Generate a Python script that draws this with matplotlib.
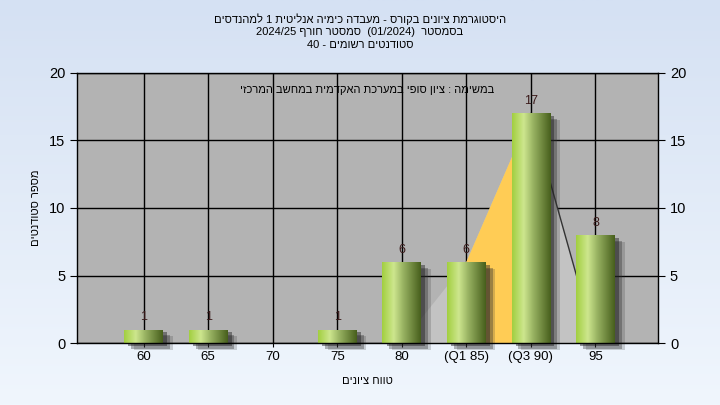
import numpy as np
import matplotlib
matplotlib.use("Agg")
import matplotlib.pyplot as plt
from matplotlib.colors import LinearSegmentedColormap
from matplotlib import patheffects as pe

plt.rcParams['font.family'] = ['Liberation Sans', 'DejaVu Sans']

# data
categories = ['60', '65', '70', '75', '80', '(Q1 85)', '(Q3 90)', '95']
counts = [1, 1, 0, 1, 6, 6, 17, 8]
poly_idx = [4, 5, 6, 7]      # frequency shape behind the bars
poly_val = [0, 6, 17, 0]
q1_idx, q3_idx = 5, 6


def rtl(s):
    # matplotlib has no bidi support: flip hebrew into visual order
    return s[::-1]


title1 = rtl("למהנדסים") + " 1 " + rtl("היסטוגרמת ציונים בקורס - מעבדה כימיה אנליטית")
title2 = "2024/25 " + rtl("סמסטר חורף") + "  (01/2024)  " + rtl("בסמסטר")
title3 = "40 - " + rtl("סטודנטים רשומים")
note = rtl("במשימה : ציון סופי במערכת האקדמית במחשב המרכזי")
xlab = rtl("טווח ציונים")
ylab = rtl("מספר סטודנטים")

fig = plt.figure(figsize=(7.2, 4.05), dpi=100)

# page background gradient
bg = fig.add_axes([0, 0, 1, 1], zorder=-10)
bg_cmap = LinearSegmentedColormap.from_list('bg', ['#d5e1f3', '#f0f6fd'])
bg.imshow(np.linspace(0, 1, 256).reshape(-1, 1), aspect='auto', cmap=bg_cmap,
          extent=[0, 1, 0, 1])
bg.axis('off')

ax = fig.add_axes([0.107, 0.153, 0.807, 0.667])
ax.set_facecolor('#b3b3b3')
x = np.arange(len(categories))

ax.set_axisbelow(True)
ax.grid(True, color='black', linewidth=1.0)

# grey shape and orange IQR band
px = [x[i] for i in poly_idx]
ax.fill(px, poly_val, color='#c3c3c3', zorder=1, lw=0)
ax.fill([x[q1_idx], x[q1_idx], x[q3_idx], x[q3_idx]],
        [0, counts[q1_idx], counts[q3_idx], 0], color='#ffcc55', zorder=1.1, lw=0)
ax.plot(px[2:], poly_val[2:], color='#333333', lw=1, zorder=1.2)

bar_cmap = LinearSegmentedColormap.from_list(
    'bar', [(0, '#a2cf40'), (0.3, '#cde68e'), (0.55, '#98b262'), (1, '#475f1c')])
grad = np.linspace(0, 1, 128).reshape(1, -1)
width = 0.6
bars = ax.bar(x, counts, width=width, color='#90b050', zorder=2, linewidth=0)
for b, c in zip(bars, counts):
    if c == 0:
        continue
    b.set_clip_on(False)
    b.set_path_effects([
        pe.SimplePatchShadow(offset=(7, -5), shadow_rgbFace='#303030', alpha=0.2),
        pe.SimplePatchShadow(offset=(5, -4), shadow_rgbFace='#303030', alpha=0.35),
        pe.SimplePatchShadow(offset=(3, -2), shadow_rgbFace='#202020', alpha=0.45),
        pe.Normal()])
    im = ax.imshow(grad, cmap=bar_cmap, aspect='auto', zorder=2.1,
                   extent=[b.get_x(), b.get_x() + b.get_width(), 0, c])
    im.set_clip_path(b)
    ax.text(b.get_x() + b.get_width() / 2, c + 0.45, str(c), ha='center', va='bottom',
            fontsize=9, color='#3a1a1a', zorder=3)

ax.set_xlim(-1.03, 7.97)
ax.set_ylim(0, 20)
ax.set_xticks(x)
ax.set_xticklabels(categories, fontsize=9.5)
ax.set_yticks([0, 5, 10, 15, 20])
ax.tick_params(axis='y', labelsize=10.5, length=5, right=True, labelright=True, direction='out')
ax.tick_params(axis='x', length=3, direction='out', pad=3)
for s in ax.spines.values():
    s.set_color('black')
    s.set_linewidth(1)
    s.set_zorder(2.5)

ax.set_xlabel(xlab, fontsize=8, labelpad=9)
ax.set_ylabel(ylab, fontsize=8, labelpad=4)
ax.yaxis.set_label_coords(-0.062, 0.5)
ax.text(0.5, 0.955, note, transform=ax.transAxes, ha='center', va='top', fontsize=8)

fig.text(0.5, 0.953, title1, ha='center', va='center', fontsize=8)
fig.text(0.5, 0.921, title2, ha='center', va='center', fontsize=8)
fig.text(0.5, 0.889, title3, ha='center', va='center', fontsize=8)

fig.savefig('out.png', dpi=100)
